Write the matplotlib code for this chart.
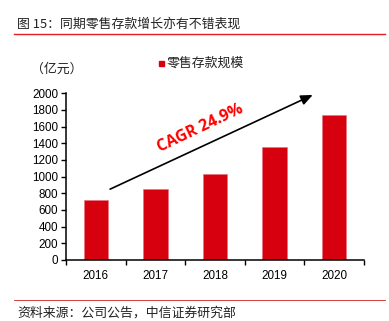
import matplotlib
matplotlib.use("Agg")
import matplotlib.pyplot as plt
from matplotlib.patches import Rectangle
from matplotlib.lines import Line2D

plt.rcParams['font.family'] = ['Liberation Sans', 'Noto Sans CJK SC', 'DejaVu Sans']

years = ["2016", "2017", "2018", "2019", "2020"]
deposits = [716, 848, 1036, 1356, 1742]
yticks = list(range(0, 2001, 200))
title = "图 15：同期零售存款增长亦有不错表现"
source = "资料来源：公司公告，中信证券研究部"
legend_label = "零售存款规模"
unit_label = "（亿元）"
cagr_label = "CAGR 24.9%"

W, H = 389, 321
fig = plt.figure(figsize=(W / 100, H / 100), dpi=100)

def fx(px):
    return px / W

def fy(py):
    return 1 - py / H

cjk = ['Noto Sans CJK SC', 'DejaVu Sans']
red = '#d7000f'

# Title and header rule
fig.text(fx(17), fy(24), title, fontsize=9.3, family=cjk, color='#222222',
         va='center', ha='left')
fig.add_artist(Line2D([fx(14), fx(385)], [fy(33.5), fy(33.5)], color='#e02020', lw=1.0))

# Footer rule and source
fig.add_artist(Line2D([fx(14), fx(385)], [fy(299.5), fy(299.5)], color='#d04040', lw=0.7))
fig.text(fx(17), fy(313), source, fontsize=9.3, family=cjk, color='#222222',
         va='center', ha='left')

# Plot area
x0, x1 = 66, 364
y0, y1 = 93.3, 260
ax = fig.add_axes([fx(x0), fy(y1), fx(x1) - fx(x0), (y1 - y0) / H])

pos = list(range(len(years)))
ax.bar(pos, deposits, width=0.41, color=red, edgecolor='#e8707a', linewidth=0.4,
       zorder=2)
ax.set_xlim(-0.5, len(years) - 0.5)
ax.set_ylim(0, 2000)
ax.set_yticks(yticks)
ax.set_yticklabels([str(t) for t in yticks], fontsize=8.4)
ax.set_xticks([p - 0.5 for p in pos] + [len(years) - 0.5])
ax.set_xticklabels([])
ax.set_xticks(pos, minor=True)
ax.set_xticklabels(years, minor=True, fontsize=8.4)
ax.tick_params(axis='x', which='minor', length=0, pad=7)
ax.tick_params(axis='x', which='major', length=3.5, direction='out', width=1)
ax.tick_params(axis='y', length=3.5, direction='out', width=1, pad=2)
for s in ['top', 'right']:
    ax.spines[s].set_visible(False)
for s in ['left', 'bottom']:
    ax.spines[s].set_linewidth(1.1)
ax.set_facecolor('none')

# Growth arrow and CAGR annotation
ax.annotate('', xy=(3.64, 1980), xytext=(0.24, 850),
            arrowprops=dict(arrowstyle='-|>,head_length=0.7,head_width=0.3',
                            color='black', lw=1.2, shrinkA=0, shrinkB=0),
            annotation_clip=False)
ax.text(1.76, 1580, cagr_label, color='#ff0000', fontsize=11.5, fontweight='bold',
        rotation=25.5, rotation_mode='anchor', ha='center', va='center',
        family=['Open Sans', 'DejaVu Sans'])

# Legend and unit
fig.add_artist(Rectangle((fx(158.5), fy(66)), 5 / W, 5 / H, color=red,
                         transform=fig.transFigure))
fig.text(fx(167), fy(63), legend_label, fontsize=9.3, family=cjk, color='#222222',
         va='center', ha='left')
fig.text(fx(31), fy(69), unit_label, fontsize=9.3, family=cjk, color='#222222',
         va='center', ha='left')

fig.savefig('out.png', dpi=100)
